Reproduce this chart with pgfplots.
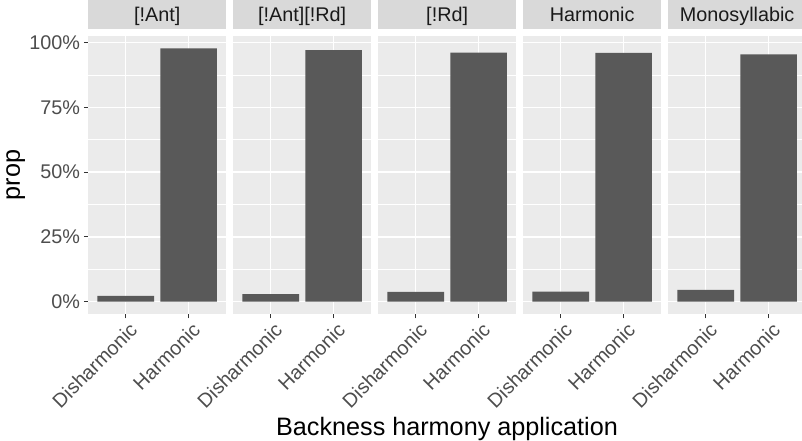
\documentclass[border=0pt]{standalone}
\usepackage{fontspec}
\setmainfont{Liberation Sans}
\usepackage{pgfplots}
\pgfplotsset{compat=1.18}
\definecolor{panelbg}{HTML}{EBEBEB}
\definecolor{stripc}{HTML}{D9D9D9}
\definecolor{barc}{HTML}{595959}
\definecolor{tickc}{HTML}{4D4D4D}
\definecolor{tickmark}{HTML}{333333}
\definecolor{stript}{HTML}{1A1A1A}
\newcommand{\ticksize}{\fontsize{19.8}{23}\selectfont}
\newcommand{\titlesize}{\fontsize{25.2}{30}\selectfont}
\pgfplotsset{
  panel/.style={
    anchor=south west,
    scale only axis,
    width=138.3pt, height=278.6pt,
    xmin=0.4, xmax=2.6,
    ymin=-0.0489, ymax=1.027,
    axis background/.style={fill=panelbg},
    axis line style={draw=none},
    xtick={1,2},
    xticklabels={Disharmonic,Harmonic},
    ytick={0,0.25,0.5,0.75,1},
    minor ytick={0.125,0.375,0.625,0.875},
    ymajorgrids, yminorgrids, xmajorgrids,
    major grid style={white, line width=1.4pt},
    minor grid style={white, line width=0.7pt},
    tick pos=left,
    tick align=outside,
    major tick length=4pt,
    minor tick length=0pt,
    tick style={tickmark, line width=1pt},
    x tick label style={rotate=45, anchor=north east, inner sep=0pt, yshift=-3.7pt, text=tickc, font=\ticksize},
    y tick label style={anchor=east, inner sep=0pt, xshift=-3.7pt, text=tickc, font=\ticksize},
    title style={at={(0.5,1)}, anchor=south, fill=stripc, minimum width=138.3pt, minimum height=29.7pt, inner sep=0pt, text height=14.2pt, text depth=0pt, text=stript, font=\ticksize},
    ybar, bar width=0.9, bar shift=0pt,
  },
  inner/.style={yticklabels={}, ytick style={draw=none}},
}
\begin{document}
\begin{tikzpicture}
\useasboundingbox (0pt,0pt) rectangle (802pt,440pt);
\begin{axis}[panel, at={(88pt,125.7pt)}, title={[!Ant]}, yticklabels={0\%,25\%,50\%,75\%,100\%}]
\addplot[fill=barc, draw=none] coordinates {(1,0.022) (2,0.978)};
\end{axis}
\begin{axis}[panel, inner, at={(233pt,125.7pt)}, title={[!Ant][!Rd]}]
\addplot[fill=barc, draw=none] coordinates {(1,0.029) (2,0.971)};
\end{axis}
\begin{axis}[panel, inner, at={(378pt,125.7pt)}, title={[!Rd]}]
\addplot[fill=barc, draw=none] coordinates {(1,0.038) (2,0.962)};
\end{axis}
\begin{axis}[panel, inner, at={(523pt,125.7pt)}, title={Harmonic}]
\addplot[fill=barc, draw=none] coordinates {(1,0.039) (2,0.961)};
\end{axis}
\begin{axis}[panel, inner, at={(668pt,125.7pt)}, title={Monosyllabic}]
\addplot[fill=barc, draw=none] coordinates {(1,0.045) (2,0.955)};
\end{axis}
\node[rotate=90, anchor=base, inner sep=0pt, font=\titlesize] at (19.9pt,265pt) {prop};
\node[anchor=base, inner sep=0pt, font=\titlesize] at (447pt,5pt) {Backness harmony application};
\end{tikzpicture}
\end{document}
